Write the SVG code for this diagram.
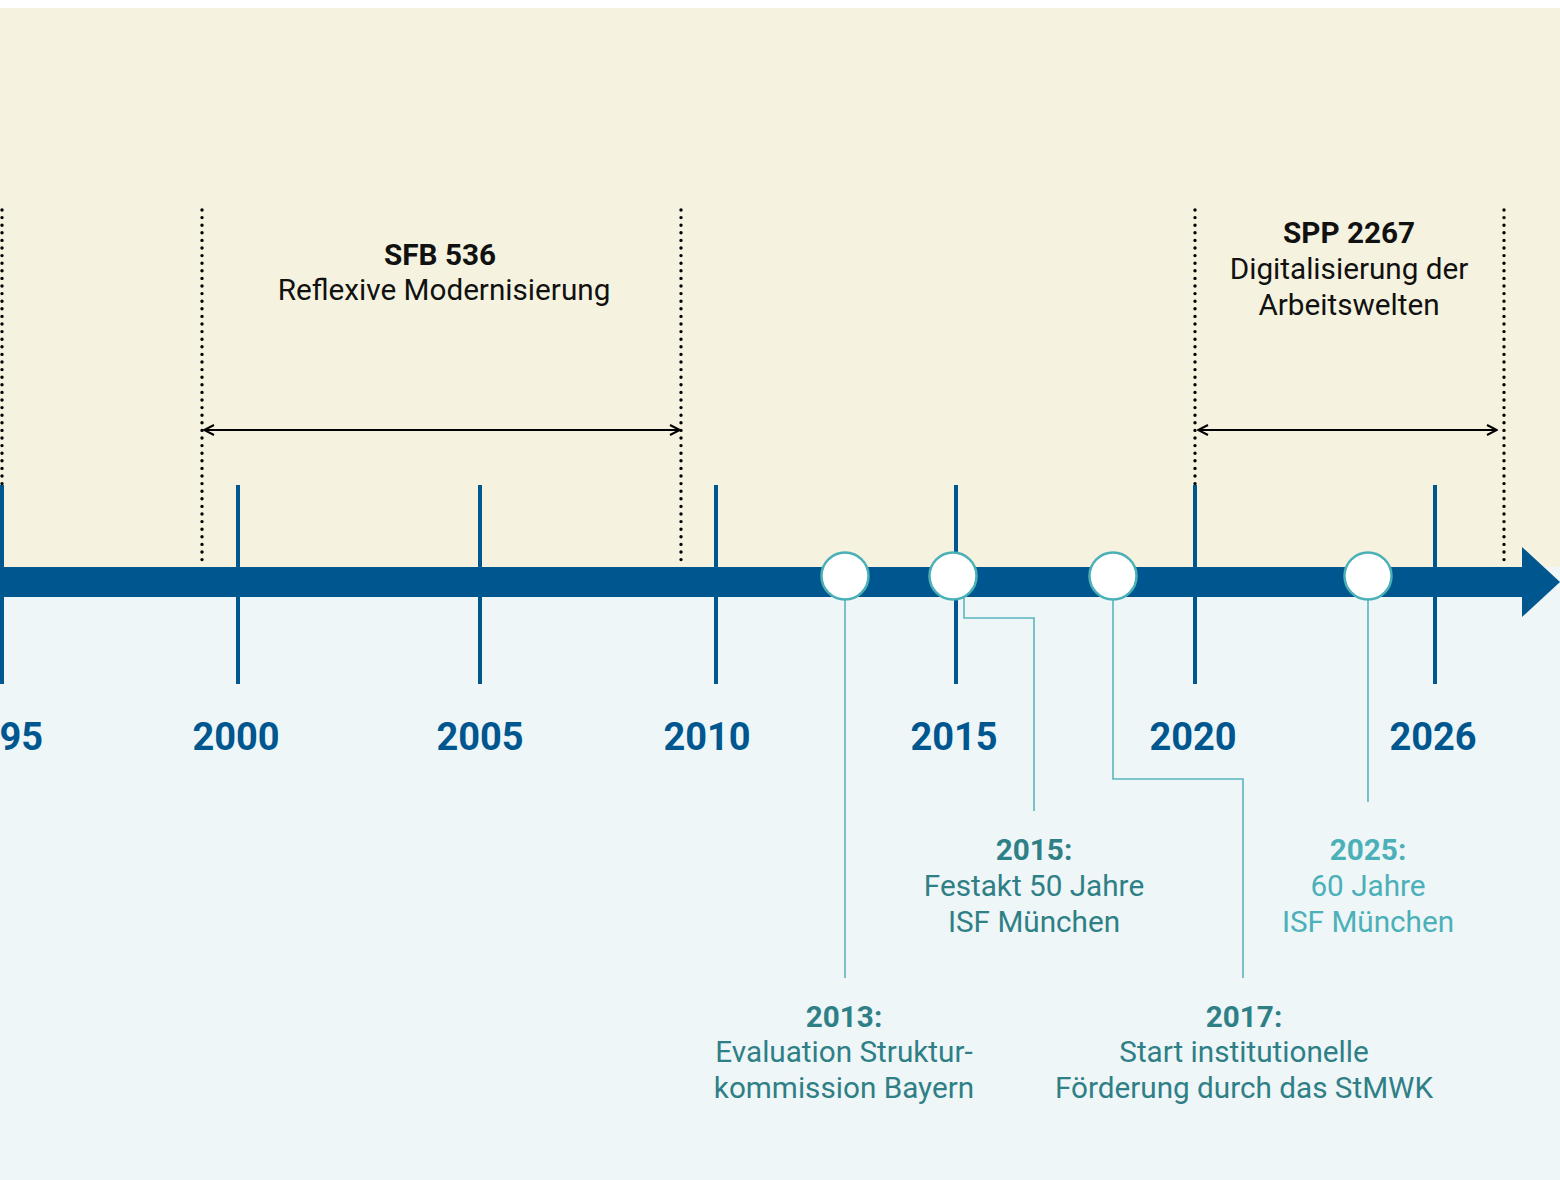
<svg xmlns="http://www.w3.org/2000/svg" width="1560" height="1180" viewBox="0 0 1560 1180">
<style>
  .dot { stroke:#000; stroke-width:3.4; stroke-linecap:round; stroke-dasharray:0 7.6; fill:none; }
  .tick { stroke:#00568F; stroke-width:4; }
  .span { stroke:#000; stroke-width:2; fill:none; }
  .conn { stroke:#5BB5BD; stroke-width:1.6; fill:none; }
  .ev { fill:#fff; stroke:#4BB0B8; stroke-width:2.5; }
  .year { font-family:Roboto, "Liberation Sans", sans-serif; font-weight:700; font-size:38px; fill:#00568F; text-anchor:middle; }
  .hd { font-family:Roboto, "Liberation Sans", sans-serif; font-size:29.7px; fill:#111; text-anchor:middle; }
  .b { font-weight:700; }
  .lbl { font-family:Roboto, "Liberation Sans", sans-serif; font-size:29.7px; fill:#2F7F86; text-anchor:middle; }
  .lbl2 { font-family:Roboto, "Liberation Sans", sans-serif; font-size:29.7px; fill:#4BB0B8; text-anchor:middle; }
</style>
<defs>
  <marker id="chev" viewBox="0 0 12 12" refX="11" refY="6" markerWidth="12" markerHeight="12" markerUnits="userSpaceOnUse" orient="auto-start-reverse">
    <path d="M1 1 L11 6 L1 11" fill="none" stroke="#000" stroke-width="2"/>
  </marker>
</defs>
<rect x="0" y="0" width="1560" height="1180" fill="#fff"/>
<rect x="0" y="8" width="1560" height="559" fill="#F5F3DF"/>
<rect x="0" y="567" width="1560" height="613" fill="#EEF6F8"/>

<g id="periods">
  <line class="dot" x1="2" y1="210" x2="2" y2="567"/>
  <line class="dot" x1="202" y1="210" x2="202" y2="567"/>
  <line class="dot" x1="681" y1="210" x2="681" y2="567"/>
  <line class="dot" x1="1195" y1="210" x2="1195" y2="567"/>
  <line class="dot" x1="1504" y1="210" x2="1504" y2="567"/>
</g>

<g id="ticks">
  <line class="tick" x1="2" y1="485" x2="2" y2="684"/>
  <line class="tick" x1="238" y1="485" x2="238" y2="684"/>
  <line class="tick" x1="480" y1="485" x2="480" y2="684"/>
  <line class="tick" x1="716" y1="485" x2="716" y2="684"/>
  <line class="tick" x1="956" y1="485" x2="956" y2="684"/>
  <line class="tick" x1="1195" y1="485" x2="1195" y2="684"/>
  <line class="tick" x1="1435" y1="485" x2="1435" y2="684"/>
</g>

<g id="axis">
  <rect x="0" y="567" width="1523" height="30" fill="#00568F"/>
  <polygon points="1522,547 1560,582 1522,617" fill="#00568F"/>
</g>

<g id="connectors">
  <line class="span" x1="204" y1="430" x2="680" y2="430" marker-start="url(#chev)" marker-end="url(#chev)"/>
  <line class="span" x1="1198" y1="430" x2="1497" y2="430" marker-start="url(#chev)" marker-end="url(#chev)"/>
  <polyline class="conn" points="845,600 845,978"/>
  <polyline class="conn" points="964,598 964,618 1034,618 1034,811"/>
  <polyline class="conn" points="1113,600 1113,779 1243,779 1243,978"/>
  <polyline class="conn" points="1368,600 1368,802"/>
</g>

<g id="ev2013"><circle class="ev" cx="845" cy="576" r="23.5"/></g>
<g id="ev2015"><circle class="ev" cx="953" cy="576" r="23.5"/></g>
<g id="ev2017"><circle class="ev" cx="1113" cy="576" r="23.5"/></g>
<g id="ev2025"><circle class="ev" cx="1368" cy="576" r="23.5"/></g>

<g id="years">
  <text class="year" x="43" y="750" style="text-anchor:end">95</text>
  <text class="year" x="236" y="750">2000</text>
  <text class="year" x="480" y="750">2005</text>
  <text class="year" x="707" y="750">2010</text>
  <text class="year" x="954" y="750">2015</text>
  <text class="year" x="1193" y="750">2020</text>
  <text class="year" x="1433" y="750">2026</text>
</g>

<g id="sfb536">
  <text class="hd b" x="440" y="265">SFB 536</text>
  <text class="hd" x="444" y="300">Reflexive Modernisierung</text>
</g>

<g id="spp2267">
  <text class="hd b" x="1349" y="243">SPP 2267</text>
  <text class="hd" x="1349" y="279">Digitalisierung der</text>
  <text class="hd" x="1349" y="315">Arbeitswelten</text>
</g>

<g id="label2015">
  <text class="lbl b" x="1034" y="860">2015:</text>
  <text class="lbl" x="1034" y="896">Festakt 50 Jahre</text>
  <text class="lbl" x="1034" y="932">ISF München</text>
</g>

<g id="label2025">
  <text class="lbl2 b" x="1368" y="860">2025:</text>
  <text class="lbl2" x="1368" y="896">60 Jahre</text>
  <text class="lbl2" x="1368" y="932">ISF München</text>
</g>

<g id="label2013">
  <text class="lbl b" x="844" y="1027">2013:</text>
  <text class="lbl" x="844" y="1062">Evaluation Struktur-</text>
  <text class="lbl" x="844" y="1098">kommission Bayern</text>
</g>

<g id="label2017">
  <text class="lbl b" x="1244" y="1027">2017:</text>
  <text class="lbl" x="1244" y="1062">Start institutionelle</text>
  <text class="lbl" x="1244" y="1098">Förderung durch das StMWK</text>
</g>
</svg>
